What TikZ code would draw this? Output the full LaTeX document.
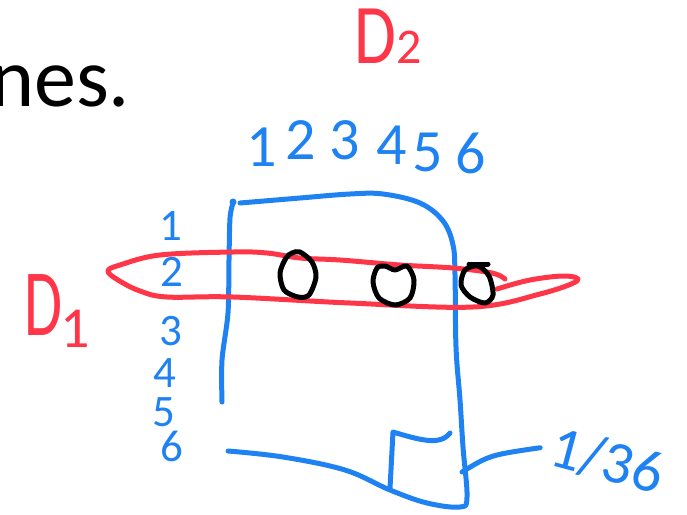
\documentclass[tikz,border=0pt]{standalone}
\usepackage{fontspec}
\setmainfont{Carlito}
\usetikzlibrary{positioning}
\definecolor{penblue}{HTML}{1F82F2}
\definecolor{penred}{HTML}{FF3548}

\tikzset{
  pen/.style={line width=5pt, line cap=round, line join=round},
  coldigit/.style={text=penblue, inner sep=0pt, font=\fontsize{60}{60}\selectfont},
  rowdigit/.style={text=penblue, inner sep=0pt, font=\fontsize{45}{45}\selectfont},
  dlabel/.style={text=penred, inner sep=0pt}
}

\begin{document}
\begin{tikzpicture}[x=1pt, y=-1pt]
  \useasboundingbox (0,0) rectangle (687,514);

  \node[anchor=base west, inner sep=0pt, font=\fontsize{84}{84}\selectfont] (caption) at (-10,106) {nes.};

  % die labels
  \node[dlabel, anchor=base west, font=\fontsize{85}{85}\selectfont] (dtwo) at (354,63)
    {\scalebox{0.8}[1]{D}{\fontsize{50}{50}\selectfont 2}};
  \node[dlabel, anchor=base west, font=\fontsize{95}{95}\selectfont] (done) at (24,335)
    {\scalebox{0.65}[1]{D}\hspace{-2pt}\raisebox{-12pt}{\fontsize{58}{58}\selectfont 1}};

  % outcomes of each die
  \foreach \n/\x/\y in {1/262/147, 2/301/140, 3/345/140, 4/392/145, 5/428/152, 6/471/153}
    \node[coldigit] (c\n) at (\x,\y) {\n};
  \foreach \n/\x/\y in {1/171/226, 2/172/272, 3/171/331, 4/165/373, 5/164/412, 6/172/446}
    \node[rowdigit] (r\n) at (\x,\y) {\n};

  % the 6x6 grid
  \fill[penblue] (233,202) circle (3.5);
  \draw[pen, penblue] plot[smooth] coordinates {(233,203) (230,218) (229,260) (228,313) (222,360) (222,402)};
  \draw[pen, penblue] plot[smooth, tension=0.6] coordinates {(240,203) (300,198) (350,194) (383,194) (420,203)
    (443,221) (453,245) (455,275) (456,347) (460,400) (463,447) (467,497) (460,507) (427,503) (390,490)
    (345,470) (283,457) (228,451)};
  \draw[pen, penblue] (390,488) -- (393,432) .. controls (420,440) and (440,446) .. (450,433);

  % row D1 = 2
  \draw[pen, penred] plot[smooth, tension=0.6] coordinates {(505,279) (492,273) (453,268) (400,265) (340,260)
    (300,258) (267,253) (233,252) (160,255) (120,265) (108,271) (118,280) (140,291) (167,297) (233,297)
    (350,303) (473,307) (540,294) (577,281) (565,276) (530,280) (497,289)};

  % marked cells
  \draw[pen, black] plot[smooth cycle] coordinates {(292,253) (300,252) (312,262) (316,277) (309,295)
    (298,297) (284,290) (280,273) (286,258)};
  \draw[pen, black] plot[smooth cycle] coordinates {(385,266) (395,270) (407,266) (414,280) (410,298)
    (395,305) (379,298) (373,282) (377,268)};
  \draw[pen, black] plot[smooth cycle] coordinates {(478,266) (489,276) (493,295) (485,303) (470,297)
    (461,285) (465,270)};
  \draw[pen, black] (469,264) -- (488,264);

  % probability
  \node[text=penblue, inner sep=0pt, rotate=-15, anchor=west, font=\fontsize{60}{60}\selectfont] (frac) at (552,446) {1/36};
  \coordinate (tail) at (462,472);
  \draw[pen, penblue, shorten >=12pt] (tail) .. controls (490,455) .. (frac.west);
\end{tikzpicture}
\end{document}
